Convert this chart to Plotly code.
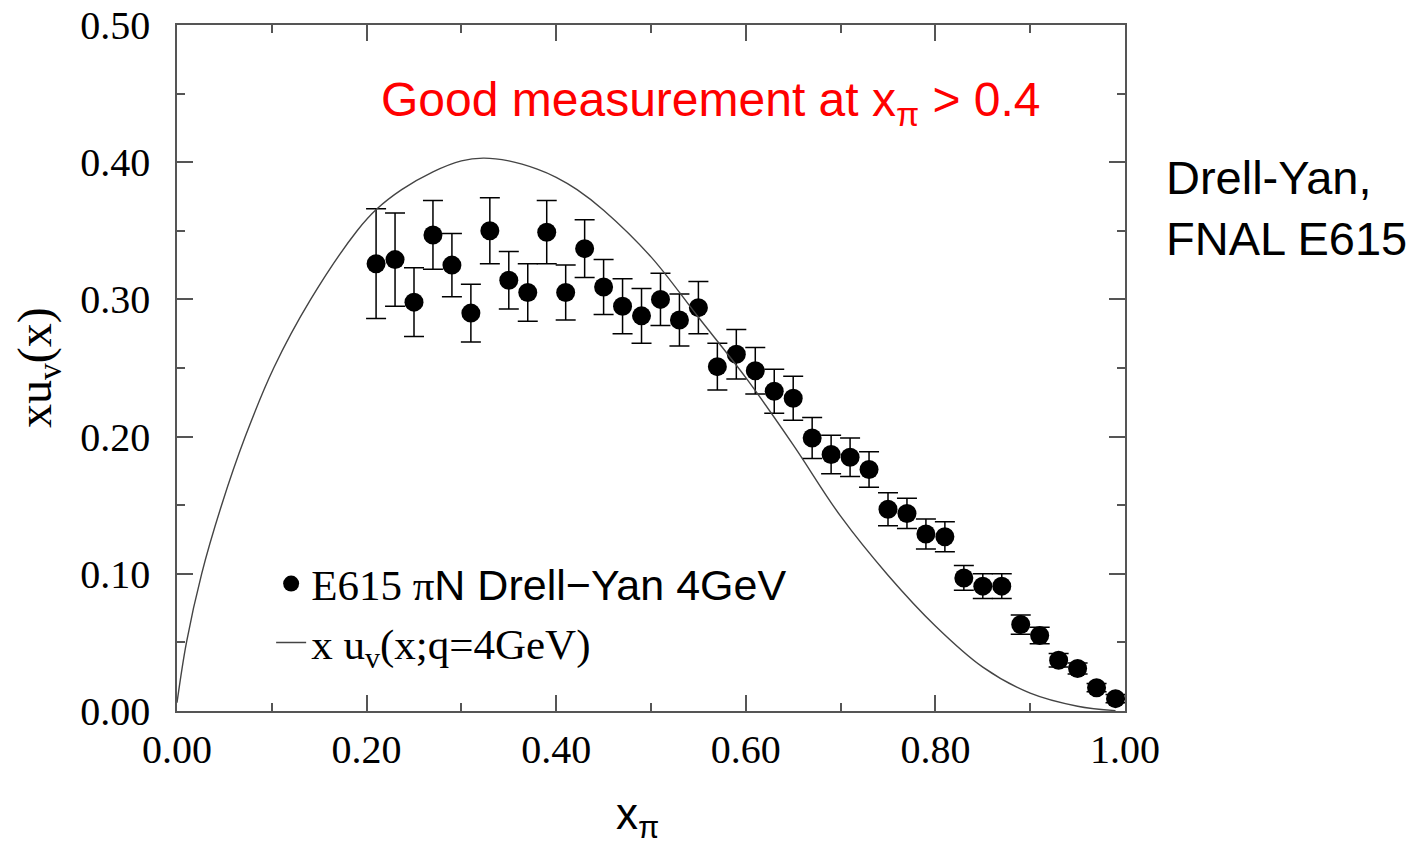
import plotly.graph_objects as go

# Data points (E615 pi N Drell-Yan 4GeV)
x_data = [0.21, 0.23, 0.25, 0.27, 0.29, 0.31, 0.33, 0.35, 0.37, 0.39,
          0.41, 0.43, 0.45, 0.47, 0.49, 0.51, 0.53, 0.55, 0.57, 0.59,
          0.61, 0.63, 0.65, 0.67, 0.69, 0.71, 0.73, 0.75, 0.77, 0.79,
          0.81, 0.83, 0.85, 0.87, 0.89, 0.91, 0.93, 0.95, 0.97, 0.99]
y_data = [0.326, 0.329, 0.298, 0.347, 0.325, 0.290, 0.350, 0.314, 0.305, 0.349,
          0.305, 0.337, 0.309, 0.295, 0.288, 0.300, 0.285, 0.294, 0.251, 0.260,
          0.248, 0.233, 0.228, 0.199, 0.187, 0.185, 0.176, 0.147, 0.144, 0.129,
          0.127, 0.097, 0.091, 0.091, 0.063, 0.055, 0.037, 0.031, 0.017, 0.009]
y_err = [0.040, 0.034, 0.025, 0.025, 0.023, 0.021, 0.024, 0.021, 0.021, 0.023,
         0.020, 0.021, 0.020, 0.020, 0.020, 0.019, 0.019, 0.019, 0.017, 0.018,
         0.017, 0.016, 0.016, 0.015, 0.014, 0.014, 0.013, 0.012, 0.011, 0.011,
         0.011, 0.009, 0.009, 0.009, 0.007, 0.006, 0.005, 0.004, 0.003, 0.003]

# Theory curve x u_v(x; q=4GeV)
x_curve = [0.0, 0.01, 0.026, 0.047, 0.072, 0.102, 0.141, 0.19, 0.211, 0.237,
           0.27, 0.30, 0.323, 0.35, 0.38, 0.40, 0.422, 0.45, 0.50, 0.55,
           0.60, 0.65, 0.70, 0.75, 0.80, 0.85, 0.90, 0.95, 0.99]
y_curve = [0.006, 0.05, 0.10, 0.15, 0.20, 0.25, 0.30, 0.35, 0.366, 0.38,
           0.393, 0.401, 0.403, 0.401, 0.395, 0.389, 0.38, 0.365, 0.331, 0.287,
           0.243, 0.194, 0.142, 0.099, 0.062, 0.032, 0.013, 0.0035, 0.0003]

x_ticks = [0.0, 0.2, 0.4, 0.6, 0.8, 1.0]
y_ticks = [0.0, 0.1, 0.2, 0.3, 0.4, 0.5]

SERIF = "Liberation Serif, Times New Roman, serif"
SANS = "Liberation Sans, Arial, sans-serif"

fig = go.Figure()
fig.add_trace(go.Scatter(
    x=x_data, y=y_data, mode="markers",
    marker=dict(color="black", size=19),
    error_y=dict(type="data", array=y_err, color="black", thickness=1.5, width=10),
    name='E615 π<span style="font-family:Liberation Sans, Arial, sans-serif">N Drell−Yan 4GeV</span>',
))
fig.add_trace(go.Scatter(
    x=x_curve, y=y_curve, mode="lines", line=dict(color="#444", width=1.4, shape="spline"),
    name="x u<sub>v</sub>(x;q=4GeV)",
))

axis_common = dict(
    showline=True, linecolor="#555", linewidth=1.5, mirror="ticks",
    ticks="inside", ticklen=16, tickwidth=1.5, tickcolor="#555",
    showgrid=False, zeroline=False, tickformat=".2f", automargin=False,
    tickfont=dict(family=SERIF, size=40, color="black"),
)
fig.update_xaxes(range=[0, 1], tickvals=x_ticks,
                 minor=dict(dtick=0.1, ticks="inside", ticklen=8, tickwidth=1.5, tickcolor="#555", showgrid=False),
                 ticklabelstandoff=2, **axis_common)
fig.update_yaxes(range=[0, 0.5], tickvals=y_ticks,
                 minor=dict(dtick=0.05, ticks="inside", ticklen=8, tickwidth=1.5, tickcolor="#555", showgrid=False),
                 ticklabelstandoff=17, **axis_common)

fig.update_layout(
    width=1419, height=846,
    margin=dict(l=177, r=294, t=25, b=135),
    paper_bgcolor="white", plot_bgcolor="white",
    showlegend=True,
    legend=dict(x=0.0993, y=0.236, xanchor="left", yanchor="top",
                bgcolor="rgba(0,0,0,0)", font=dict(family=SERIF, size=43, color="black")),
    annotations=[
        dict(text="xu<sub>v</sub>(x)", x=-0.1466, y=0.5, xref="paper", yref="paper",
             textangle=-90, showarrow=False, xanchor="center", yanchor="middle",
             font=dict(family=SERIF, size=48, color="black")),
        dict(text="x<sub>π</sub>", x=0.486, y=-0.155, xref="paper", yref="paper",
             showarrow=False, xanchor="center", yanchor="middle",
             font=dict(family=SANS, size=44, color="black")),
        dict(text="Good measurement at x<sub>π</sub> > 0.4", x=0.563, y=0.887,
             xref="paper", yref="paper", showarrow=False, xanchor="center", yanchor="middle",
             font=dict(family=SANS, size=48, color="red")),
        dict(text="Drell-Yan,<br>FNAL E615", x=1.0411, y=0.7335, xref="paper", yref="paper",
             showarrow=False, xanchor="left", yanchor="middle", align="left",
             font=dict(family=SANS, size=47, color="black")),
    ],
)

fig.write_html("out.html")
